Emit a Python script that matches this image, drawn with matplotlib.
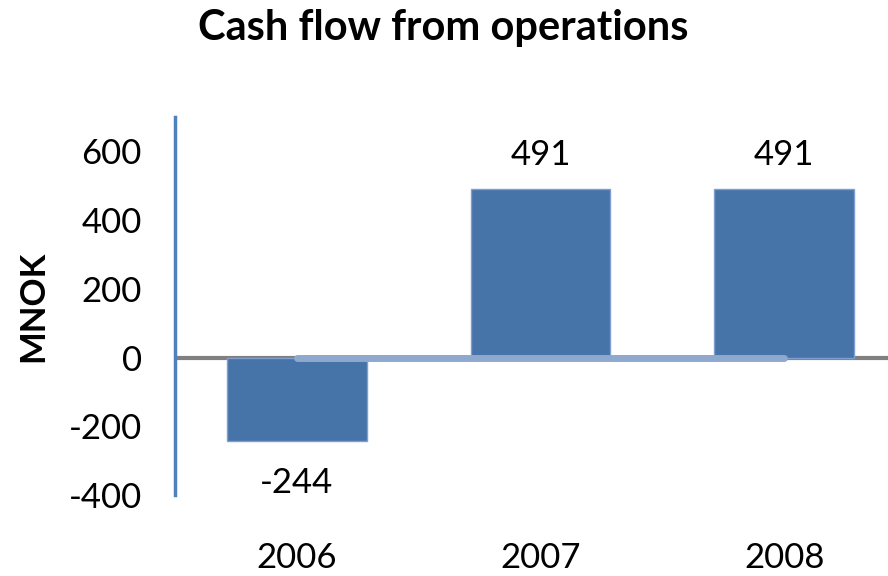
import matplotlib
matplotlib.use('Agg')
import matplotlib.pyplot as plt

plt.rcParams['font.family'] = ['Lato', 'DejaVu Sans']
plt.rcParams['axes.unicode_minus'] = False

years = ['2006', '2007', '2008']
cash_flow = [-244, 491, 491]
zero_series = [0, 0, 0]
yticks = [-400, -200, 0, 200, 400, 600]

fig = plt.figure(figsize=(8.88, 5.76), dpi=100)
ax = fig.add_axes([175 / 888, 81 / 576, 731 / 888, 378 / 576])

x = range(len(years))
ax.bar(x, cash_flow, width=0.574, color='#4673A8', edgecolor='#7FA0CF', linewidth=1, zorder=2)

# zero line across the plot, light series line on top
ax.axhline(0, color='#808080', linewidth=3, zorder=1)
ax.plot(x, zero_series, color='#8EA8CE', linewidth=5, solid_capstyle='round', zorder=3)

for i, v in enumerate(cash_flow):
    if v >= 0:
        ax.annotate(str(v), (i, v), xytext=(0, 24), textcoords='offset points',
                    ha='center', va='center', fontsize=25)
    else:
        ax.annotate(str(v), (i, v), xytext=(0, -30), textcoords='offset points',
                    ha='center', va='center', fontsize=25)

ax.set_xlim(-0.5, 2.5)
ax.set_ylim(-400, 700)
ax.set_yticks(yticks)
ax.set_xticks(list(x))
ax.set_xticklabels(years)
ax.tick_params(axis='y', length=0, pad=24, labelsize=25)
ax.tick_params(axis='x', length=0, pad=34, labelsize=25)

for s in ['top', 'right', 'bottom']:
    ax.spines[s].set_visible(False)
ax.spines['left'].set_color('#4F81BD')
ax.spines['left'].set_linewidth(2.5)

ax.set_ylabel('MNOK', fontsize=25, fontweight='bold', labelpad=14)
fig.text(443 / 888, 1 - 28 / 576, 'Cash flow from operations', ha='center', va='center',
         fontsize=30, fontweight='bold')

fig.savefig('out.png', dpi=100)
